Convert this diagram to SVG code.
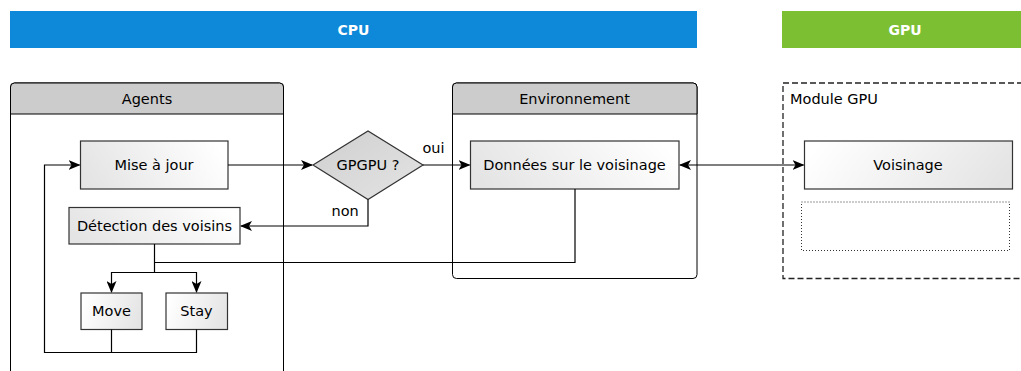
<svg xmlns="http://www.w3.org/2000/svg" width="1021" height="371" viewBox="0 0 1021 371">
<defs>
<linearGradient id="gL" x1="0" y1="0.6" x2="1" y2="0.4"><stop offset="0" stop-color="#e4e4e4"/><stop offset="1" stop-color="#ffffff"/></linearGradient>
<linearGradient id="gR" x1="0" y1="0.4" x2="1" y2="0.6"><stop offset="0" stop-color="#ffffff"/><stop offset="1" stop-color="#e4e4e4"/></linearGradient>
<linearGradient id="gD" x1="0" y1="0" x2="1" y2="1"><stop offset="0" stop-color="#cfcfcf"/><stop offset="1" stop-color="#e4e4e4"/></linearGradient>
<marker id="arr" viewBox="0 0 12 10" refX="11" refY="5" markerWidth="12" markerHeight="10" markerUnits="userSpaceOnUse" orient="auto-start-reverse">
<path d="M0,0 L12,5 L0,10 L3,5 Z" fill="#000"/>
</marker>
</defs>
<style>
text{font-family:"DejaVu Sans",sans-serif;font-size:14.5px;fill:#000;}
.t{text-anchor:middle;dominant-baseline:central;}
.bar{font-weight:bold;fill:#fff;font-size:14px;}
.box{stroke:#333;stroke-width:1.2;}
.cont{fill:#fff;stroke:#000;stroke-width:1;}
.hdr{fill:#cccccc;stroke:#000;stroke-width:1;}
.ln{fill:none;stroke:#000;stroke-width:1.2;}
</style>
<g id="cpu-bar"><rect x="10" y="11" width="687" height="37" fill="#0e88d9"/><text class="t bar" x="353.5" y="29.5">CPU</text></g>
<g id="gpu-bar"><rect x="782" y="11" width="239" height="37" fill="#7dbf32"/><text class="t bar" x="905" y="29.5">GPU</text></g>
<g id="agents">
<path class="cont" d="M10.5,380 V87 a4,4 0 0 1 4,-4 H279.5 a4,4 0 0 1 4,4 V380"/>
<path class="hdr" d="M10.5,114 V87 a4,4 0 0 1 4,-4 H279.5 a4,4 0 0 1 4,4 V114 Z"/>
<text class="t" x="147" y="98.5">Agents</text>
</g>
<g id="environnement">
<rect class="cont" x="452.5" y="83" width="244.5" height="195.5" rx="4"/>
<path class="hdr" d="M452.5,114 V87 a4,4 0 0 1 4,-4 H693 a4,4 0 0 1 4,4 V114 Z"/>
<text class="t" x="574.5" y="98.5">Environnement</text>
</g>
<g id="module-gpu">
<rect x="783" y="83" width="250" height="195.5" fill="none" stroke="#222" stroke-width="1.3" stroke-dasharray="6,3"/>
<text x="790" y="104">Module GPU</text>
</g>
<g id="mise-a-jour"><rect class="box" x="80.5" y="141" width="147.5" height="48" fill="url(#gL)"/><text class="t" x="154" y="165">Mise à jour</text></g>
<g id="detection"><rect class="box" x="69" y="207.5" width="171" height="36.5" fill="url(#gL)"/><text class="t" x="154.5" y="226">Détection des voisins</text></g>
<g id="move"><rect class="box" x="81" y="293" width="61" height="36.5" fill="url(#gR)"/><text class="t" x="111.5" y="311">Move</text></g>
<g id="stay"><rect class="box" x="166" y="293" width="61.5" height="36.5" fill="url(#gR)"/><text class="t" x="196.5" y="311">Stay</text></g>
<g id="gpgpu"><polygon points="313,165 368,131 423,165 368,199.5" fill="url(#gD)" stroke="#333" stroke-width="1.2"/><text class="t" x="368" y="165">GPGPU ?</text></g>
<g id="donnees"><rect class="box" x="470.5" y="141" width="208.5" height="48" fill="url(#gL)"/><text class="t" x="574.5" y="165">Données sur le voisinage</text></g>
<g id="voisinage"><rect class="box" x="804.5" y="141" width="208" height="48" fill="url(#gR)"/><text class="t" x="908" y="165">Voisinage</text></g>
<g id="placeholder"><rect x="801.5" y="202" width="208" height="48.5" fill="none" stroke="#333" stroke-width="1" stroke-dasharray="1,2"/></g>
<g id="connectors">
<path class="ln" d="M228,165 H312" marker-end="url(#arr)"/>
<path class="ln" d="M423,165 H469.5" marker-end="url(#arr)"/>
<text x="422.5" y="153">oui</text>
<path class="ln" d="M368,199.5 V226 H241" marker-end="url(#arr)"/>
<text x="331.5" y="216">non</text>
<path class="ln" d="M680,165 H803.5" marker-start="url(#arr)" marker-end="url(#arr)"/>
<path class="ln" d="M575,189 V262.5 H154.5"/>
<path class="ln" d="M154.5,244 V272.5 H111.5 V292" marker-end="url(#arr)"/>
<path class="ln" d="M154.5,272.5 H196.5 V292" marker-end="url(#arr)"/>
<path class="ln" d="M111.5,329.5 V352.5 H44.5 V165 H79.5" marker-end="url(#arr)"/>
<path class="ln" d="M196.5,329.5 V352.5 H111.5"/>
</g>
</svg>
